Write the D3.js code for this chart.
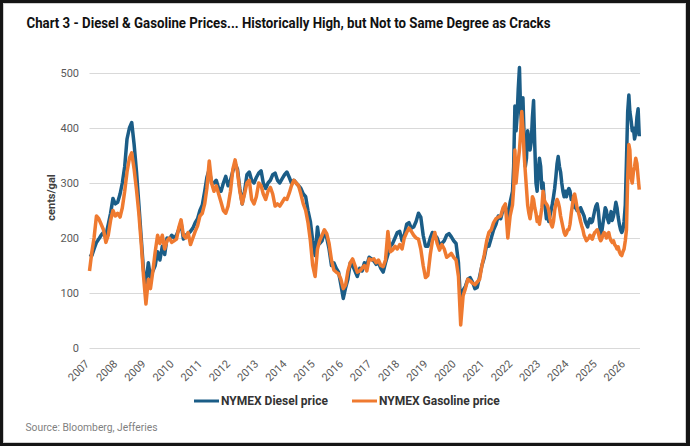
<!DOCTYPE html>
<html><head><meta charset="utf-8">
<script src="https://cdn.jsdelivr.net/npm/d3@7"></script>
<style>
body{margin:0;background:#151515;}
svg{display:block;font-family:Roboto,"Liberation Sans",Arial,sans-serif;}
</style>
</head><body>
<svg id="c" width="690" height="446"></svg>
<script>
const titleText = "Chart 3 - Diesel & Gasoline Prices... Historically High, but Not to Same Degree as Cracks";
const sourceText = "Source: Bloomberg, Jefferies";
const yLabel = "cents/gal";
const seriesNames = ["NYMEX Diesel price", "NYMEX Gasoline price"];
const yearLabels = ["2007","2008","2009","2010","2011","2012","2013","2014","2015","2016","2017","2018","2019","2020","2021","2022","2023","2024","2025","2026"];
const yTicks = [0, 100, 200, 300, 400, 500];

// Monthly values, Jan 2007 - Dec 2021 (cents/gal)
const dieselMonthly = [
 170,168,180,192,198,205,210,205,225,245,272,262,
 265,280,300,330,380,400,410,370,320,262,200,140,
 118,155,128,140,150,175,160,185,170,200,198,205,
 200,205,215,228,198,205,208,212,218,228,235,250,
 260,285,310,325,300,300,305,290,285,300,312,295,
 305,322,335,325,290,262,285,315,320,305,300,310,
 318,322,300,290,300,305,315,318,305,300,308,315,
 320,310,300,305,300,295,290,280,275,250,230,195,
 168,220,190,195,212,200,180,150,155,145,138,115,
 90,110,125,155,150,140,130,145,140,155,150,165,
 162,158,152,155,145,138,155,170,185,190,200,210,
 212,195,205,225,228,218,220,230,245,238,205,185,
 185,200,210,205,200,188,190,195,205,208,202,195,
 190,155,78,105,112,125,128,120,108,110,130,150,
 165,188,185,200,215,225,240,235,252,258,232,265
];
const gasolineMonthly = [
 140,175,200,240,235,225,215,192,205,232,250,240,
 245,238,255,285,320,345,355,325,287,245,190,130,
 80,125,108,140,175,205,190,205,180,195,200,192,
 195,198,218,233,205,200,210,188,200,212,222,240,
 245,262,290,340,300,285,295,280,265,250,245,258,
 285,325,342,320,285,262,280,300,305,270,262,275,
 300,295,280,270,285,292,280,258,262,258,265,272,
 270,282,295,305,300,295,280,262,250,228,195,150,
 130,180,195,205,215,208,190,160,142,138,135,125,
 108,115,140,155,162,150,138,140,145,150,140,162,
 160,162,155,160,150,148,160,212,175,178,185,180,
 188,180,200,210,218,212,205,200,198,180,150,128,
 132,170,195,210,190,178,188,180,165,168,172,165,
 160,130,42,95,108,125,122,118,115,120,125,150,
 170,195,210,215,228,235,238,240,255,262,200,240
];
// Semi-monthly values (1st and 16th), Jan 2022 - Jul 2026
const dieselSemi = [
 285,330,440,395,420,470,510,430,405,455,380,330,345,395,380,360,375,420,450,370,300,285,320,345,
 330,290,300,265,255,235,245,230,240,250,262,275,290,310,335,348,330,320,300,285,275,285,275,285,
 290,285,270,275,265,255,258,250,252,248,255,250,245,240,230,225,220,230,235,228,230,240,250,258,
 262,250,225,205,210,225,240,255,250,235,228,238,248,232,240,250,265,255,238,225,215,210,215,230,
 260,340,430,460,430,415,395,400,380,390,420,435,385
];
const gasolineSemi = [
 260,290,360,300,320,340,360,390,430,400,350,320,290,260,245,235,250,275,270,255,245,230,238,225,
 240,255,285,270,265,262,258,250,235,225,220,230,250,262,270,265,255,240,230,220,210,205,208,215,
 215,225,245,260,275,280,268,255,248,240,230,222,215,205,200,195,198,200,205,200,198,205,210,212,
 215,210,200,195,198,205,210,208,200,205,210,200,195,192,195,188,185,180,184,175,170,168,175,180,
 195,215,310,370,360,310,300,320,330,345,335,310,288
];

// ---- dates for the observations ----
const monthDates = d3.timeMonth.range(new Date(2007,0,1), new Date(2022,0,1));
const semiDates = [];
d3.timeMonth.range(new Date(2022,0,1), new Date(2026,7,1)).forEach(d => {
  semiDates.push(new Date(d.getFullYear(), d.getMonth(), 1));
  semiDates.push(new Date(d.getFullYear(), d.getMonth(), 16));
});
const dates = monthDates.concat(semiDates.slice(0, dieselSemi.length));
const diesel = dieselMonthly.concat(dieselSemi).map((v,i) => ({d: dates[i], v}));
const gasoline = gasolineMonthly.concat(gasolineSemi).map((v,i) => ({d: dates[i], v}));

const svg = d3.select("#c");
// frame
svg.append("rect").attr("x",3.5).attr("y",3.5).attr("width",682).attr("height",439)
  .attr("fill","#fff").attr("stroke","#d0d0d0").attr("stroke-width",1);

const x = d3.scaleTime().domain([new Date(2007,0,1), new Date(2026,0,1)]).range([89.5, 625.3]);
const y = d3.scaleLinear().domain([0,500]).range([348, 73]);
const plotRight = 640;

// title
const t = svg.append("text").attr("x",26.5).attr("y",28.3)
  .attr("font-size",14).attr("font-weight",700).attr("fill","#111")
  .text(titleText);
t.attr("textLength",524).attr("lengthAdjust","spacingAndGlyphs");

// gridlines + y ticks
const yAxis = d3.axisLeft(y).tickValues(yTicks).tickSize(0).tickPadding(0);
const gy = svg.append("g").attr("transform","translate(79,0)").call(yAxis);
gy.select(".domain").remove();
gy.selectAll("text").attr("font-size",11).attr("fill","#595959")
  .attr("font-family","Roboto,'Liberation Sans',Arial,sans-serif");
svg.append("g").selectAll("line").data(yTicks).join("line")
  .attr("x1",89.5).attr("x2",plotRight)
  .attr("y1",d=>Math.round(y(d))+0.5).attr("y2",d=>Math.round(y(d))+0.5)
  .attr("stroke","#d9d9d9").attr("stroke-width",1);

// y label
svg.append("text").attr("transform","translate(55,197.5) rotate(-90)")
  .attr("text-anchor","middle").attr("font-size",11).attr("font-weight",700)
  .attr("fill","#404040").text(yLabel);

// x labels
const xAxis = d3.axisBottom(x)
  .tickValues(yearLabels.map(s => new Date(+s,0,1)))
  .tickFormat((d,i) => yearLabels[i]).tickSize(0).tickPadding(0);
const gx = svg.append("g").attr("transform","translate(0,364.5)").call(xAxis);
gx.select(".domain").remove();
gx.selectAll("text").attr("font-size",11).attr("fill","#595959")
  .attr("font-family","Roboto,'Liberation Sans',Arial,sans-serif")
  .attr("text-anchor","end").attr("dy",0).attr("y",0)
  .attr("transform","rotate(-45)");

// lines
const line = d3.line().x(d => x(d.d)).y(d => y(d.v)).curve(d3.curveLinear);
const colors = ["#1b5d87", "#ef7a30"];
svg.append("path").datum(diesel).attr("d",line).attr("fill","none")
  .attr("stroke",colors[0]).attr("stroke-width",3.5).attr("stroke-linejoin","round");
svg.append("path").datum(gasoline).attr("d",line).attr("fill","none")
  .attr("stroke",colors[1]).attr("stroke-width",3.5).attr("stroke-linejoin","round");

// legend
const legendX = [194, 352];
const lg = svg.append("g");
seriesNames.forEach((n,i) => {
  lg.append("line").attr("x1",legendX[i]).attr("x2",legendX[i]+25)
    .attr("y1",401).attr("y2",401).attr("stroke",colors[i]).attr("stroke-width",3);
  lg.append("text").attr("x",legendX[i]+27).attr("y",401).attr("dy","0.36em")
    .attr("font-size",12).attr("font-weight",700).attr("fill","#333").text(n);
});

// source
svg.append("text").attr("x",25.5).attr("y",430.5).attr("font-size",11)
  .attr("fill","#7f7f7f").attr("textLength",132).attr("lengthAdjust","spacingAndGlyphs")
  .text(sourceText);
</script>
</body></html>
